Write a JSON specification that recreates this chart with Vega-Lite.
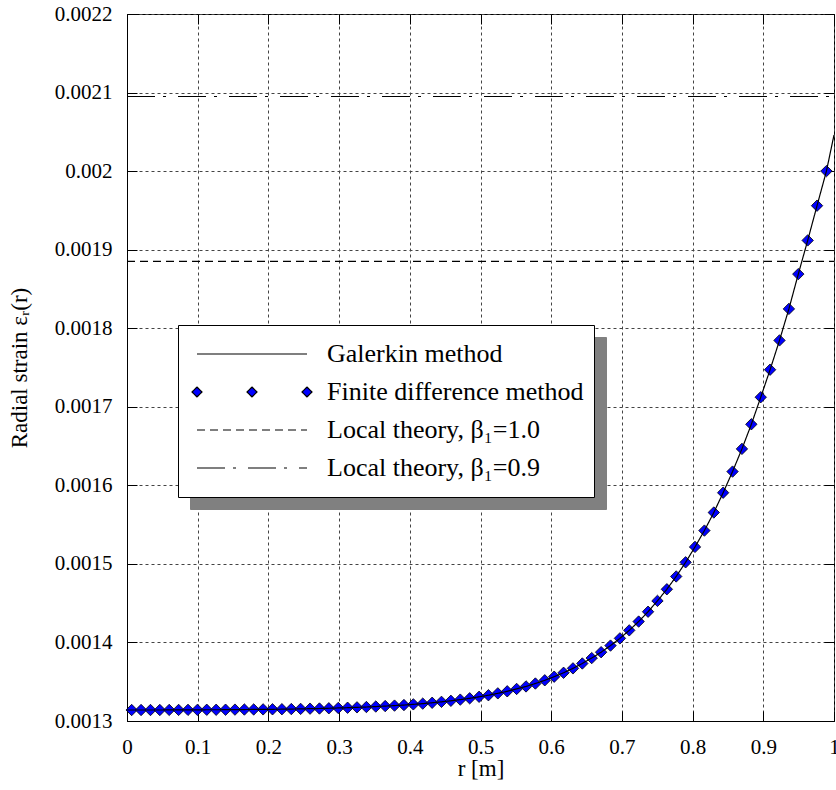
{
  "$schema": "https://vega.github.io/schema/vega-lite/v6.json",
  "width": 707,
  "height": 707,
  "autosize": {"type": "none"},
  "padding": {"left": 127, "top": 14, "right": 2, "bottom": 69},
  "background": "white",
  "config": {
    "view": {"stroke": "black", "strokeWidth": 1},
    "font": "Liberation Serif",
    "style": {
      "guide-label": {"font": "Liberation Serif"},
      "guide-title": {"font": "Liberation Serif"}
    },
    "axis": {
      "labelFont": "Liberation Serif",
      "titleFont": "Liberation Serif",
      "labelFontSize": 21,
      "titleFontSize": 23,
      "titleFontWeight": "normal",
      "labelColor": "black",
      "titleColor": "black",
      "domainColor": "black",
      "tickColor": "black"
    },
    "legend": {
      "labelFont": "Liberation Serif"
    }
  },
  "datasets": {
    "fd": [
      {"r": 0.0066, "eps": 0.0013140}, {"r": 0.0199, "eps": 0.0013140}, {"r": 0.0332, "eps": 0.0013140},
      {"r": 0.0464, "eps": 0.0013140}, {"r": 0.0597, "eps": 0.0013141}, {"r": 0.0730, "eps": 0.0013141},
      {"r": 0.0863, "eps": 0.0013142}, {"r": 0.0996, "eps": 0.0013142}, {"r": 0.1128, "eps": 0.0013143},
      {"r": 0.1261, "eps": 0.0013143}, {"r": 0.1394, "eps": 0.0013144}, {"r": 0.1527, "eps": 0.0013145},
      {"r": 0.1660, "eps": 0.0013146}, {"r": 0.1792, "eps": 0.0013147}, {"r": 0.1925, "eps": 0.0013148},
      {"r": 0.2058, "eps": 0.0013149}, {"r": 0.2191, "eps": 0.0013150}, {"r": 0.2324, "eps": 0.0013152},
      {"r": 0.2456, "eps": 0.0013154}, {"r": 0.2589, "eps": 0.0013157}, {"r": 0.2722, "eps": 0.0013159},
      {"r": 0.2855, "eps": 0.0013162}, {"r": 0.2988, "eps": 0.0013166}, {"r": 0.3120, "eps": 0.0013169},
      {"r": 0.3253, "eps": 0.0013174}, {"r": 0.3386, "eps": 0.0013178}, {"r": 0.3519, "eps": 0.0013184},
      {"r": 0.3652, "eps": 0.0013190}, {"r": 0.3784, "eps": 0.0013196}, {"r": 0.3917, "eps": 0.0013203},
      {"r": 0.4050, "eps": 0.0013212}, {"r": 0.4183, "eps": 0.0013221}, {"r": 0.4316, "eps": 0.0013232},
      {"r": 0.4448, "eps": 0.0013244}, {"r": 0.4581, "eps": 0.0013257}, {"r": 0.4714, "eps": 0.0013272},
      {"r": 0.4847, "eps": 0.0013289}, {"r": 0.4980, "eps": 0.0013308}, {"r": 0.5112, "eps": 0.0013328},
      {"r": 0.5245, "eps": 0.0013352}, {"r": 0.5378, "eps": 0.0013378}, {"r": 0.5511, "eps": 0.0013408},
      {"r": 0.5644, "eps": 0.0013440}, {"r": 0.5776, "eps": 0.0013477}, {"r": 0.5909, "eps": 0.0013518},
      {"r": 0.6042, "eps": 0.0013564}, {"r": 0.6175, "eps": 0.0013614}, {"r": 0.6308, "eps": 0.0013670},
      {"r": 0.6440, "eps": 0.0013732}, {"r": 0.6573, "eps": 0.0013801}, {"r": 0.6706, "eps": 0.0013876},
      {"r": 0.6839, "eps": 0.0013960}, {"r": 0.6972, "eps": 0.0014052}, {"r": 0.7104, "eps": 0.0014154},
      {"r": 0.7237, "eps": 0.0014266}, {"r": 0.7370, "eps": 0.0014391}, {"r": 0.7503, "eps": 0.0014529},
      {"r": 0.7636, "eps": 0.0014677}, {"r": 0.7768, "eps": 0.0014840}, {"r": 0.7901, "eps": 0.0015020},
      {"r": 0.8034, "eps": 0.0015216}, {"r": 0.8167, "eps": 0.0015424}, {"r": 0.8300, "eps": 0.0015654},
      {"r": 0.8432, "eps": 0.0015906}, {"r": 0.8565, "eps": 0.0016175}, {"r": 0.8698, "eps": 0.0016464},
      {"r": 0.8831, "eps": 0.0016777}, {"r": 0.8964, "eps": 0.0017122}, {"r": 0.9096, "eps": 0.0017472},
      {"r": 0.9229, "eps": 0.0017845}, {"r": 0.9362, "eps": 0.0018246}, {"r": 0.9495, "eps": 0.0018689},
      {"r": 0.9628, "eps": 0.0019118}, {"r": 0.9760, "eps": 0.0019560}, {"r": 0.9893, "eps": 0.0020000}
    ],
    "lines": [
      {"series": "Galerkin method", "r": 0.0, "eps": 0.0013140},
      {"series": "Galerkin method", "r": 0.0066, "eps": 0.0013140}, {"series": "Galerkin method", "r": 0.0199, "eps": 0.0013140},
      {"series": "Galerkin method", "r": 0.0332, "eps": 0.0013140}, {"series": "Galerkin method", "r": 0.0464, "eps": 0.0013140},
      {"series": "Galerkin method", "r": 0.0597, "eps": 0.0013141}, {"series": "Galerkin method", "r": 0.0730, "eps": 0.0013141},
      {"series": "Galerkin method", "r": 0.0863, "eps": 0.0013142}, {"series": "Galerkin method", "r": 0.0996, "eps": 0.0013142},
      {"series": "Galerkin method", "r": 0.1128, "eps": 0.0013143}, {"series": "Galerkin method", "r": 0.1261, "eps": 0.0013143},
      {"series": "Galerkin method", "r": 0.1394, "eps": 0.0013144}, {"series": "Galerkin method", "r": 0.1527, "eps": 0.0013145},
      {"series": "Galerkin method", "r": 0.1660, "eps": 0.0013146}, {"series": "Galerkin method", "r": 0.1792, "eps": 0.0013147},
      {"series": "Galerkin method", "r": 0.1925, "eps": 0.0013148}, {"series": "Galerkin method", "r": 0.2058, "eps": 0.0013149},
      {"series": "Galerkin method", "r": 0.2191, "eps": 0.0013150}, {"series": "Galerkin method", "r": 0.2324, "eps": 0.0013152},
      {"series": "Galerkin method", "r": 0.2456, "eps": 0.0013154}, {"series": "Galerkin method", "r": 0.2589, "eps": 0.0013157},
      {"series": "Galerkin method", "r": 0.2722, "eps": 0.0013159}, {"series": "Galerkin method", "r": 0.2855, "eps": 0.0013162},
      {"series": "Galerkin method", "r": 0.2988, "eps": 0.0013166}, {"series": "Galerkin method", "r": 0.3120, "eps": 0.0013169},
      {"series": "Galerkin method", "r": 0.3253, "eps": 0.0013174}, {"series": "Galerkin method", "r": 0.3386, "eps": 0.0013178},
      {"series": "Galerkin method", "r": 0.3519, "eps": 0.0013184}, {"series": "Galerkin method", "r": 0.3652, "eps": 0.0013190},
      {"series": "Galerkin method", "r": 0.3784, "eps": 0.0013196}, {"series": "Galerkin method", "r": 0.3917, "eps": 0.0013203},
      {"series": "Galerkin method", "r": 0.4050, "eps": 0.0013212}, {"series": "Galerkin method", "r": 0.4183, "eps": 0.0013221},
      {"series": "Galerkin method", "r": 0.4316, "eps": 0.0013232}, {"series": "Galerkin method", "r": 0.4448, "eps": 0.0013244},
      {"series": "Galerkin method", "r": 0.4581, "eps": 0.0013257}, {"series": "Galerkin method", "r": 0.4714, "eps": 0.0013272},
      {"series": "Galerkin method", "r": 0.4847, "eps": 0.0013289}, {"series": "Galerkin method", "r": 0.4980, "eps": 0.0013308},
      {"series": "Galerkin method", "r": 0.5112, "eps": 0.0013328}, {"series": "Galerkin method", "r": 0.5245, "eps": 0.0013352},
      {"series": "Galerkin method", "r": 0.5378, "eps": 0.0013378}, {"series": "Galerkin method", "r": 0.5511, "eps": 0.0013408},
      {"series": "Galerkin method", "r": 0.5644, "eps": 0.0013440}, {"series": "Galerkin method", "r": 0.5776, "eps": 0.0013477},
      {"series": "Galerkin method", "r": 0.5909, "eps": 0.0013518}, {"series": "Galerkin method", "r": 0.6042, "eps": 0.0013564},
      {"series": "Galerkin method", "r": 0.6175, "eps": 0.0013614}, {"series": "Galerkin method", "r": 0.6308, "eps": 0.0013670},
      {"series": "Galerkin method", "r": 0.6440, "eps": 0.0013732}, {"series": "Galerkin method", "r": 0.6573, "eps": 0.0013801},
      {"series": "Galerkin method", "r": 0.6706, "eps": 0.0013876}, {"series": "Galerkin method", "r": 0.6839, "eps": 0.0013960},
      {"series": "Galerkin method", "r": 0.6972, "eps": 0.0014052}, {"series": "Galerkin method", "r": 0.7104, "eps": 0.0014154},
      {"series": "Galerkin method", "r": 0.7237, "eps": 0.0014266}, {"series": "Galerkin method", "r": 0.7370, "eps": 0.0014391},
      {"series": "Galerkin method", "r": 0.7503, "eps": 0.0014529}, {"series": "Galerkin method", "r": 0.7636, "eps": 0.0014677},
      {"series": "Galerkin method", "r": 0.7768, "eps": 0.0014840}, {"series": "Galerkin method", "r": 0.7901, "eps": 0.0015020},
      {"series": "Galerkin method", "r": 0.8034, "eps": 0.0015216}, {"series": "Galerkin method", "r": 0.8167, "eps": 0.0015424},
      {"series": "Galerkin method", "r": 0.8300, "eps": 0.0015654}, {"series": "Galerkin method", "r": 0.8432, "eps": 0.0015906},
      {"series": "Galerkin method", "r": 0.8565, "eps": 0.0016175}, {"series": "Galerkin method", "r": 0.8698, "eps": 0.0016464},
      {"series": "Galerkin method", "r": 0.8831, "eps": 0.0016777}, {"series": "Galerkin method", "r": 0.8964, "eps": 0.0017122},
      {"series": "Galerkin method", "r": 0.9096, "eps": 0.0017472}, {"series": "Galerkin method", "r": 0.9229, "eps": 0.0017845},
      {"series": "Galerkin method", "r": 0.9362, "eps": 0.0018246}, {"series": "Galerkin method", "r": 0.9495, "eps": 0.0018689},
      {"series": "Galerkin method", "r": 0.9628, "eps": 0.0019118}, {"series": "Galerkin method", "r": 0.9760, "eps": 0.0019560},
      {"series": "Galerkin method", "r": 0.9893, "eps": 0.0020000}, {"series": "Galerkin method", "r": 1.0, "eps": 0.0020460},
      {"series": "Local theory, β₁=1.0", "r": 0.0, "eps": 0.001885},
      {"series": "Local theory, β₁=1.0", "r": 1.0, "eps": 0.001885},
      {"series": "Local theory, β₁=0.9", "r": 0.0, "eps": 0.002095},
      {"series": "Local theory, β₁=0.9", "r": 1.0, "eps": 0.002095}
    ],
    "shadow": [
      {"sh": "Galerkin method"},
      {"sh": "Finite difference method"},
      {"sh": "Local theory, β₁=1.0"},
      {"sh": "Local theory, β₁=0.9"}
    ]
  },
  "resolve": {"axis": {"x": "independent", "y": "independent"}},
  "layer": [
    {
      "data": {"name": "fd"},
      "mark": {"type": "point", "shape": "diamond", "filled": true, "fill": "#0000ff", "stroke": "black", "strokeWidth": 0.8, "size": 130, "opacity": 1},
      "encoding": {
        "x": {
          "field": "r", "type": "quantitative",
          "scale": {"domain": [0, 1], "nice": false, "zero": false},
          "axis": {"orient": "top", "labels": false, "title": null, "grid": false, "domain": false, "tickSize": -10,
                   "values": [0, 0.1, 0.2, 0.3, 0.4, 0.5, 0.6, 0.7, 0.8, 0.9, 1]}
        },
        "y": {
          "field": "eps", "type": "quantitative",
          "scale": {"domain": [0.0013, 0.0022], "nice": false, "zero": false},
          "axis": {"orient": "right", "labels": false, "title": null, "grid": false, "domain": false, "tickSize": -10,
                   "values": [0.0013, 0.0014, 0.0015, 0.0016, 0.0017, 0.0018, 0.0019, 0.002, 0.0021, 0.0022]}
        }
      }
    },
    {
      "data": {"name": "lines"},
      "mark": {"type": "line", "strokeWidth": 1.2, "color": "black", "clip": true},
      "encoding": {
        "x": {
          "field": "r", "type": "quantitative",
          "scale": {"domain": [0, 1], "nice": false, "zero": false},
          "axis": {"orient": "bottom", "values": [0, 0.1, 0.2, 0.3, 0.4, 0.5, 0.6, 0.7, 0.8, 0.9, 1],
                   "labelExpr": "format(datum.value, '~g')", "grid": true, "gridDash": [3, 3], "gridColor": "#444",
                   "gridWidth": 1, "tickSize": -10, "labelPadding": 25, "title": "r [m]", "titlePadding": 0,
                   "labelFont": "Liberation Serif", "titleFont": "Liberation Serif", "labelFontSize": 21, "titleFontSize": 23,
                   "domain": true, "domainWidth": 1, "labelFlush": false}
        },
        "y": {
          "field": "eps", "type": "quantitative",
          "scale": {"domain": [0.0013, 0.0022], "nice": false, "zero": false},
          "axis": {"orient": "left", "values": [0.0013, 0.0014, 0.0015, 0.0016, 0.0017, 0.0018, 0.0019, 0.002, 0.0021, 0.0022],
                   "labelExpr": "format(datum.value, '~g')", "grid": true, "gridDash": [3, 3], "gridColor": "#444",
                   "gridWidth": 1, "tickSize": -10, "labelPadding": 25, "title": "Radial strain εᵣ(r)", "titlePadding": 23,
                   "labelFont": "Liberation Serif", "titleFont": "Liberation Serif", "labelFontSize": 21, "titleFontSize": 23,
                   "domain": true, "domainWidth": 1, "labelFlush": false}
        },
        "strokeDash": {
          "field": "series", "type": "nominal",
          "scale": {
            "domain": ["Galerkin method", "Finite difference method", "Local theory, β₁=1.0", "Local theory, β₁=0.9"],
            "range": [[1, 0], [1, 0], [8, 5], [28, 8, 3, 12]]
          },
          "legend": {
            "orient": "none", "legendX": 51, "legendY": 311, "title": null,
            "fillColor": "white", "strokeColor": "black", "padding": 10,
            "symbolType": "stroke", "symbolSize": 12100, "symbolStrokeWidth": 1.2, "symbolStrokeColor": "black",
            "symbolOffset": 8, "clipHeight": 38, "rowPadding": 0, "labelOffset": 19,
            "labelFont": "Liberation Serif", "labelFontSize": 26, "labelColor": "black", "labelLimit": 0,
            "zindex": 2,
            "encode": {
              "symbols": {
                "update": {
                  "size": {"value": 12100},
                  "strokeWidth": {"value": 1.2},
                  "stroke": {"value": "black"},
                  "opacity": {"value": 1},
                  "shape": {"signal": "datum.value === 'Finite difference method' ? 'M-1,-0.09L-0.91,0L-1,0.09L-1.09,0ZM0,-0.09L0.09,0L0,0.09L-0.09,0ZM1,-0.09L1.09,0L1,0.09L0.91,0Z' : 'stroke'"},
                  "fill": {"signal": "datum.value === 'Finite difference method' ? '#0000ff' : 'transparent'"}
                }
              }
            }
          }
        }
      }
    },
    {
      "data": {"name": "shadow"},
      "mark": {"type": "point", "opacity": 0},
      "encoding": {
        "fill": {
          "field": "sh", "type": "nominal",
          "scale": {"range": ["#808080"]},
          "legend": {
            "orient": "none", "legendX": 63, "legendY": 323, "title": null,
            "fillColor": "#808080", "strokeColor": "#808080", "padding": 10,
            "symbolType": "stroke", "symbolSize": 12100, "symbolStrokeWidth": 1.2, "symbolOpacity": 0,
            "symbolOffset": 8, "clipHeight": 38, "rowPadding": 0, "labelOffset": 19,
            "labelFont": "Liberation Serif", "labelFontSize": 26, "labelOpacity": 0, "labelLimit": 0,
            "zindex": 1,
            "encode": {
              "symbols": {
                "update": {
                  "size": {"value": 12100},
                  "strokeWidth": {"value": 1.2},
                  "opacity": {"value": 0}
                }
              },
              "labels": {
                "update": {
                  "opacity": {"value": 0}
                }
              }
            }
          }
        }
      }
    }
  ]
}
